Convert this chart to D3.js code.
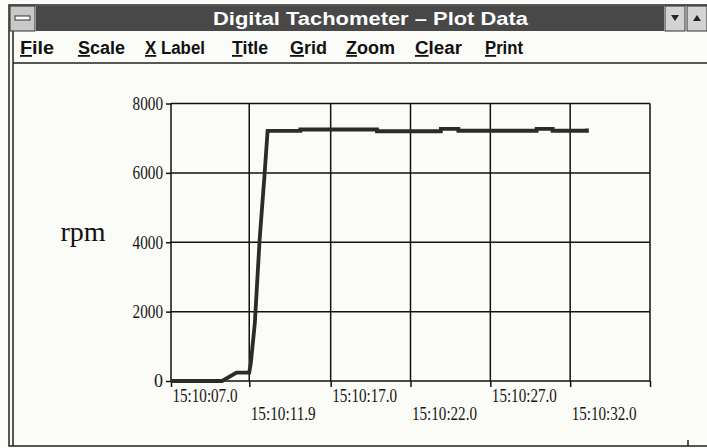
<!DOCTYPE html>
<html>
<head>
<meta charset="utf-8">
<script src="https://cdn.jsdelivr.net/npm/d3@7"></script>
<style>
  body { margin: 0; background: #fbfbf8; }
  svg { display: block; }
  .grid line { stroke: #111; stroke-width: 1.5; }
  .axis .domain { display: none; }
  .axis line { stroke: #111; stroke-width: 1.5; }
  .axis text { font-family: "Liberation Serif", serif; font-size: 18px; fill: #151515; }
  .menu text { font-family: "Liberation Sans", Arial, sans-serif; font-size: 18px; font-weight: bold; fill: #111; }
</style>
</head>
<body>
<div id="chart"></div>
<script>
// seconds after 15:10:00
var times = [7.0, 10.2, 11.1, 11.9, 12.0, 12.25, 12.55, 12.85, 13.05, 15.1, 15.1, 19.9, 19.9, 23.9, 23.9, 25.0, 25.0, 29.9, 29.9, 30.9, 30.9, 33.05, 33.05];
var rpm   = [0,   0,    240,  240,  520,  1670,  4070,  5890,  7210,  7210, 7250, 7250, 7200, 7200, 7270, 7270, 7215, 7215, 7270, 7270, 7215, 7215, 7280];

var yTicks = [0, 2000, 4000, 6000, 8000];
var xTicks = [7.0, 11.9, 17.0, 22.0, 27.0, 32.0, 37.0];
var xTickLabels = ["15:10:07.0", "15:10:11.9", "15:10:17.0", "15:10:22.0", "15:10:27.0", "15:10:32.0", ""];
var menuItems = ["File", "Scale", "X Label", "Title", "Grid", "Zoom", "Clear", "Print"];
var menuX = [20, 78, 145, 232, 290, 346, 415, 485];
var menuW = [34, 47, 60, 36, 37, 49, 47, 38];

var W = 707, H = 448;
var plot = {left: 171, right: 650, top: 103.5, bottom: 381};
var narrow = function(sel, perChar) {
  sel.each(function() {
    var n = this.textContent.length;
    if (n > 1) d3.select(this).attr("textLength", n * perChar).attr("lengthAdjust", "spacingAndGlyphs");
  });
};

var svg = d3.select("#chart").append("svg")
    .attr("width", W)
    .attr("height", H);

// window frame
svg.append("rect").attr("x", 0).attr("y", 0).attr("width", W).attr("height", H).attr("fill", "#fbfbf8");
svg.append("rect").attr("x", 9).attr("y", 5).attr("width", W).attr("height", 441)
    .attr("fill", "none").attr("stroke", "#222").attr("stroke-width", 1.5);
svg.append("line").attr("x1", 13).attr("x2", 13).attr("y1", 31).attr("y2", 446)
    .attr("stroke", "#222").attr("stroke-width", 1.5);
svg.append("line").attr("x1", 688).attr("x2", 688).attr("y1", 440).attr("y2", 446)
    .attr("stroke", "#222").attr("stroke-width", 1.5);

// title bar
svg.append("rect").attr("x", 36).attr("y", 6).attr("width", 628).attr("height", 25).attr("fill", "#484848");
svg.append("rect").attr("x", 10).attr("y", 6).attr("width", 25).attr("height", 25).attr("fill", "#c9c9c9").attr("stroke", "#333");
svg.append("rect").attr("x", 15).attr("y", 16).attr("width", 15).attr("height", 4).attr("fill", "#fff").attr("stroke", "#333");
svg.append("text").attr("x", 213).attr("y", 25)
    .attr("textLength", 315).attr("lengthAdjust", "spacingAndGlyphs")
    .style("font-family", "'Liberation Sans', Arial, sans-serif")
    .style("font-size", "19px").style("font-weight", "bold").style("fill", "#fff")
    .text("Digital Tachometer  \u2013  Plot Data");
svg.append("rect").attr("x", 665).attr("y", 6).attr("width", 20).attr("height", 25).attr("fill", "#d3d3d3").attr("stroke", "#333");
svg.append("rect").attr("x", 687).attr("y", 6).attr("width", 20).attr("height", 25).attr("fill", "#d3d3d3").attr("stroke", "#333");
svg.append("path").attr("d", "M671,15 L679,15 L675,21 Z").attr("fill", "#222");
svg.append("path").attr("d", "M693,21 L701,21 L697,15 Z").attr("fill", "#222");

// menu bar
var menu = svg.append("g").attr("class", "menu");
menuItems.forEach(function(m, i) {
  var t = menu.append("text").attr("x", menuX[i]).attr("y", 54)
      .attr("textLength", menuW[i]).attr("lengthAdjust", "spacingAndGlyphs");
  t.append("tspan").style("text-decoration", "underline").text(m.charAt(0));
  t.append("tspan").text(m.slice(1));
});
svg.append("line").attr("x1", 13).attr("x2", W).attr("y1", 63).attr("y2", 63)
    .attr("stroke", "#222").attr("stroke-width", 1.5);

// scales
var x = d3.scaleLinear().domain([7, 37]).range([plot.left, plot.right]);
var y = d3.scaleLinear().domain([0, 8000]).range([plot.bottom, plot.top]);

// grid
var grid = svg.append("g").attr("class", "grid");
grid.selectAll(".hg").data(yTicks).enter().append("line")
    .attr("x1", plot.left).attr("x2", plot.right)
    .attr("y1", function(d) { return y(d); }).attr("y2", function(d) { return y(d); });
grid.selectAll(".vg").data(xTicks).enter().append("line")
    .attr("x1", function(d) { return x(d); }).attr("x2", function(d) { return x(d); })
    .attr("y1", plot.top).attr("y2", plot.bottom);

// axes
var yAxis = svg.append("g").attr("class", "axis")
    .attr("transform", "translate(" + plot.left + ",0)")
    .call(d3.axisLeft(y).tickValues(yTicks).tickSize(5).tickPadding(3).tickFormat(d3.format("d")));
narrow(yAxis.selectAll(".tick text"), 7.6);

var xAxis = svg.append("g").attr("class", "axis")
    .attr("transform", "translate(0," + plot.bottom + ")")
    .call(d3.axisBottom(x).tickValues(xTicks).tickSize(6).tickFormat(function(d, i) { return xTickLabels[i]; }));
xAxis.selectAll(".tick text")
    .attr("text-anchor", "start")
    .attr("x", 1)
    .attr("y", function(d, i) { return i % 2 === 0 ? 8 : 26; });
narrow(xAxis.selectAll(".tick text"), 6.5);

// y label
svg.append("text").attr("x", 83).attr("y", 241).attr("text-anchor", "middle")
    .style("font-family", "'Liberation Serif', serif").style("font-size", "28px").style("fill", "#111")
    .text("rpm");

// data line
var data = times.map(function(t, i) { return {t: t, v: rpm[i]}; });
var line = d3.line()
    .x(function(d) { return x(d.t); })
    .y(function(d) { return y(d.v); });
svg.append("path")
    .datum(data)
    .attr("fill", "none")
    .attr("stroke", "#2b2b2b")
    .attr("stroke-width", 3.8)
    .attr("stroke-linejoin", "miter")
    .attr("d", line);
</script>
</body>
</html>
